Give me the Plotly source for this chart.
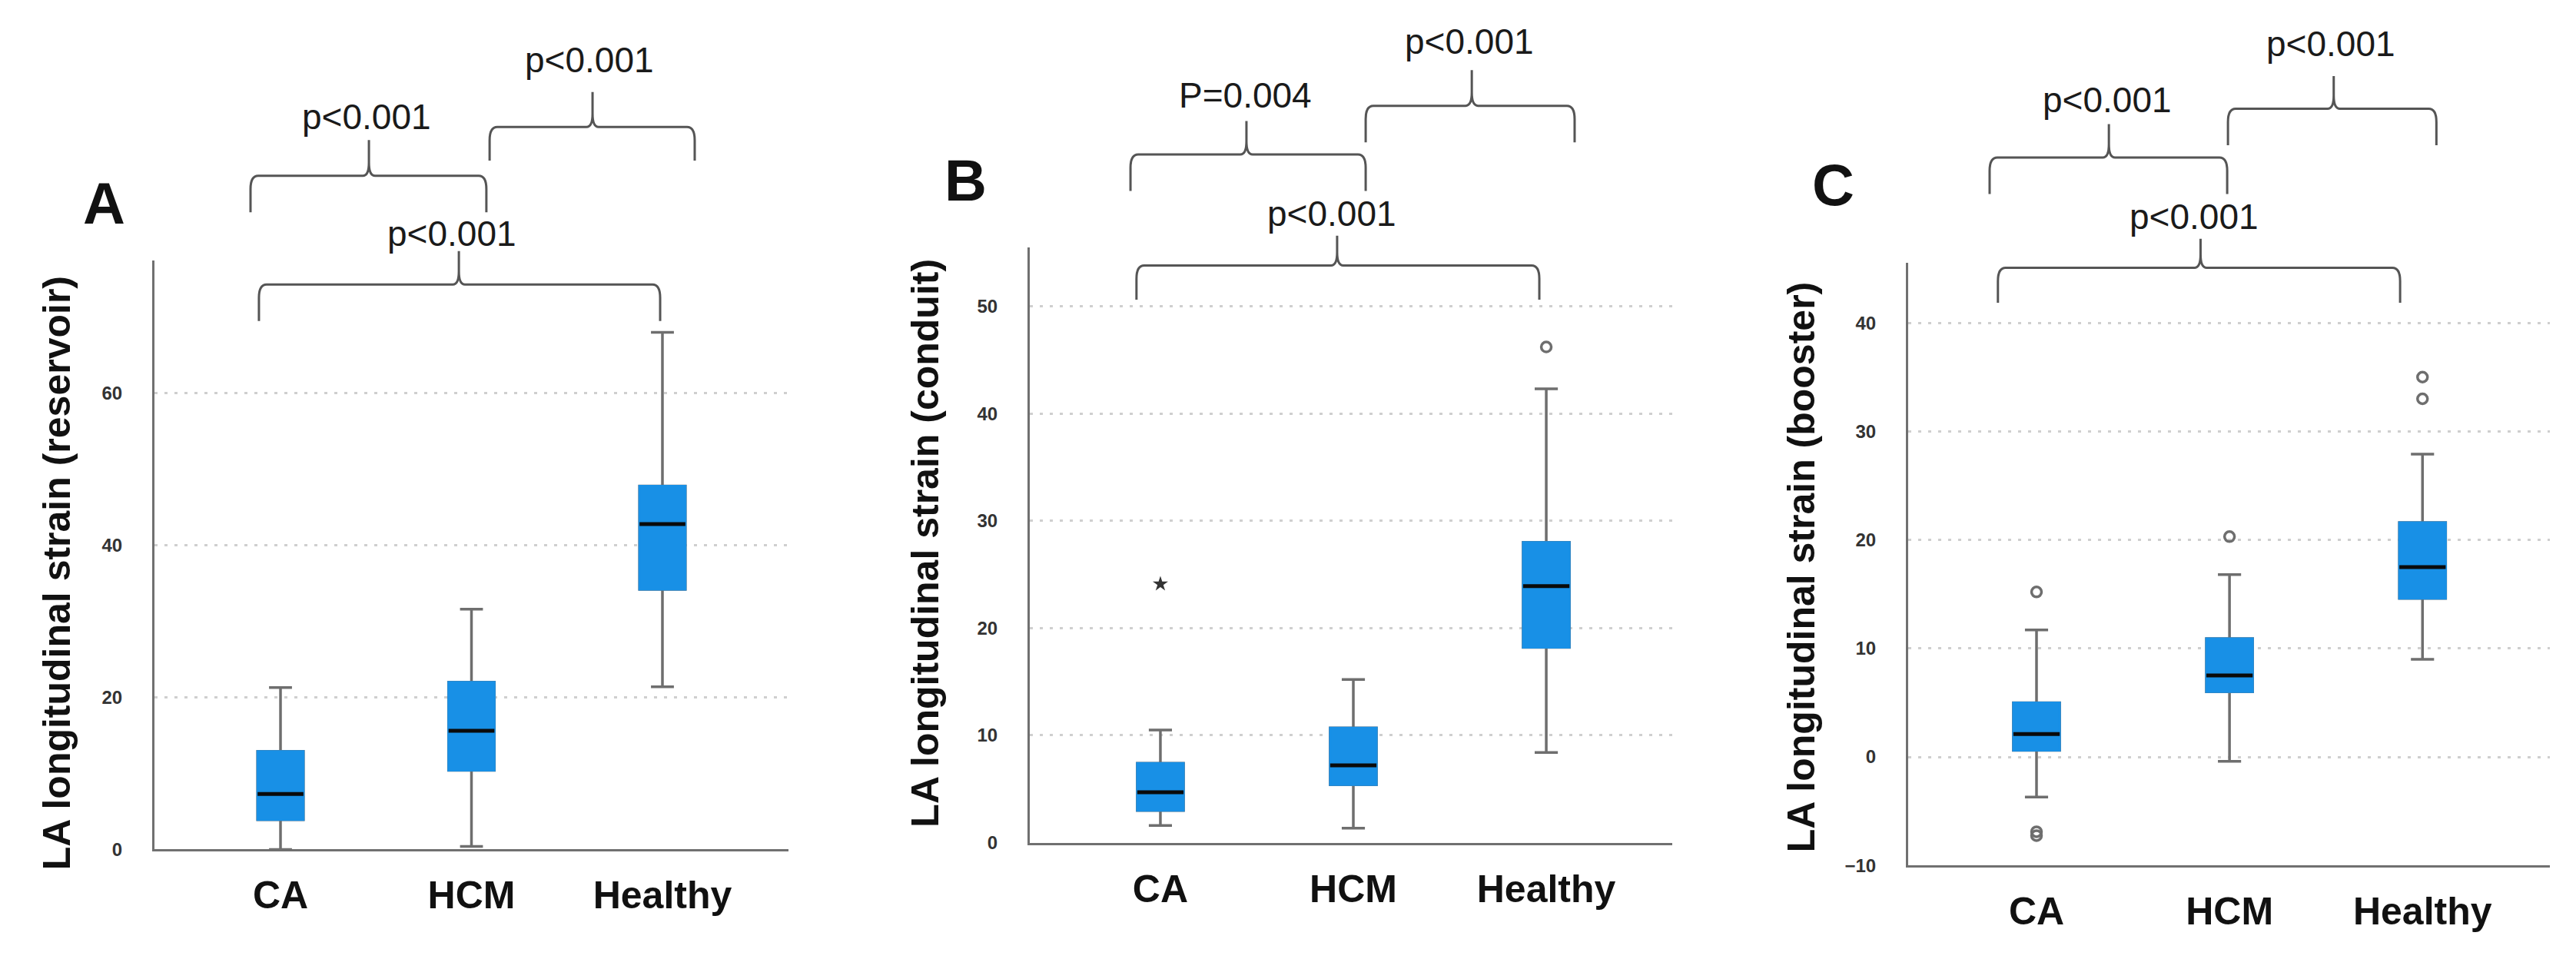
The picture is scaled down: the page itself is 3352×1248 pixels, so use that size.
import plotly.graph_objects as go

W, H = 3352, 1248

categories = ["CA", "HCM", "Healthy"]

# Panel A - LA longitudinal strain (reservoir)
a_lower = [0.0, 0.4, 21.4]
a_q1 = [3.9, 10.4, 34.2]
a_median = [7.3, 15.6, 42.8]
a_q3 = [12.9, 22.0, 47.8]
a_upper = [21.3, 31.6, 68.0]
a_out_cat = []
a_out_val = []
a_star_cat = []
a_star_val = []

# Panel B - LA longitudinal strain (conduit)
b_lower = [1.6, 1.35, 8.4]
b_q1 = [3.0, 5.4, 18.2]
b_median = [4.7, 7.2, 23.9]
b_q3 = [7.4, 10.7, 28.0]
b_upper = [10.5, 15.2, 42.3]
b_out_cat = ["Healthy"]
b_out_val = [46.2]
b_star_cat = ["CA"]
b_star_val = [24.1]

# Panel C - LA longitudinal strain (booster)
c_lower = [-3.7, -0.4, 9.0]
c_q1 = [0.6, 6.0, 14.6]
c_median = [2.1, 7.5, 17.5]
c_q3 = [5.0, 10.9, 21.6]
c_upper = [11.7, 16.8, 27.9]
c_out_cat = ["CA", "CA", "CA", "HCM", "Healthy", "Healthy"]
c_out_val = [15.2, -6.9, -7.25, 20.3, 35.0, 33.0]
c_star_cat = []
c_star_val = []

titles = ["LA longitudinal strain (reservoir)",
          "LA longitudinal strain (conduit)",
          "LA longitudinal strain (booster)"]
letters = ["A", "B", "C"]

# p-value labels: (left group, right group, text)
a_pvals = ["p<0.001", "p<0.001", "p<0.001"]
b_pvals = ["P=0.004", "p<0.001", "p<0.001"]
c_pvals = ["p<0.001", "p<0.001", "p<0.001"]

BLUE = "#1890E6"
GRAY = "#6e6e6e"
FONT = "Arial, Liberation Sans, sans-serif"

panels = [
    dict(stats=(a_lower, a_q1, a_median, a_q3, a_upper), out=(a_out_cat, a_out_val),
         star=(a_star_cat, a_star_val), pvals=a_pvals,
         xpx=(193, 1018), ypx=(334, 1109), xr=(-0.66, 2.66), yr=(0, 77.5), dtick=20,
         letter=(127, 259), ytitle=(66, 746),
         braces=[(-0.157, 1.078, 0.463, 271, 223, 176, 0.451, 146),
                 (1.095, 2.169, 1.634, 203, 159, 113, 1.618, 71),
                 (-0.113, 1.988, 0.934, 414, 366, 322, 0.897, 299)]),
    dict(stats=(b_lower, b_q1, b_median, b_q3, b_upper), out=(b_out_cat, b_out_val),
         star=(b_star_cat, b_star_val), pvals=b_pvals,
         xpx=(1332, 2168), ypx=(317, 1100), xr=(-0.677, 2.653), yr=(0, 55.5), dtick=10,
         letter=(1248, 229), ytitle=(1196, 706),
         braces=[(-0.155, 1.064, 0.446, 243, 195, 151, 0.442, 117),
                 (1.064, 2.147, 1.614, 179, 131, 84, 1.600, 46),
                 (-0.124, 1.964, 0.916, 386, 341, 302, 0.888, 273)]),
    dict(stats=(c_lower, c_q1, c_median, c_q3, c_upper), out=(c_out_cat, c_out_val),
         star=(c_star_cat, c_star_val), pvals=c_pvals,
         xpx=(2475, 3310), ypx=(338, 1130), xr=(-0.665, 2.66), yr=(-10, 45.5), dtick=10,
         letter=(2377, 235), ytitle=(2336, 738),
         braces=[(-0.243, 0.988, 0.375, 247, 199, 155, 0.367, 123),
                 (0.992, 2.072, 1.540, 183, 135, 92, 1.526, 50),
                 (-0.200, 1.884, 0.850, 390, 344, 306, 0.817, 277)]),
]

fig = go.Figure()
xpos = list(range(len(categories)))


def py(px):
    return 1 - px / H


def brace_path(x0, x1, xm, yb, yh, yt, rx=0.04, ry=0.014, rmx=0.032, rmy=0.014):
    yb, yh, yt = py(yb), py(yh), py(yt)
    return (f"M {x0},{yb} L {x0},{yh - ry} Q {x0},{yh} {x0 + rx},{yh} "
            f"L {xm - rmx},{yh} Q {xm},{yh} {xm},{yh + rmy} L {xm},{yt} "
            f"M {xm},{yh + rmy} Q {xm},{yh} {xm + rmx},{yh} "
            f"L {x1 - rx},{yh} Q {x1},{yh} {x1},{yh - ry} L {x1},{yb}")


shapes = []
annotations = []
for i, p in enumerate(panels):
    sfx = "" if i == 0 else str(i + 1)
    xa, ya = "x" + sfx, "y" + sfx
    lo, q1, med, q3, hi = p["stats"]
    common = dict(x=xpos, xaxis=xa, yaxis=ya, width=0.24, showlegend=False,
                  hoverinfo="skip", boxpoints=False)
    # whiskers + box
    fig.add_trace(go.Box(q1=q1, median=med, q3=q3, lowerfence=lo, upperfence=hi,
                         fillcolor=BLUE, line=dict(color=GRAY, width=3.5),
                         whiskerwidth=0.5, **common))
    # cover the box outline in blue
    fig.add_trace(go.Box(q1=q1, median=med, q3=q3, lowerfence=q1, upperfence=q3,
                         fillcolor=BLUE, line=dict(color=BLUE, width=3),
                         whiskerwidth=0, **common))
    # median line
    fig.add_trace(go.Box(q1=med, median=med, q3=med, lowerfence=med, upperfence=med,
                         fillcolor="rgba(0,0,0,0)", line=dict(color="#0a0a0a", width=5),
                         whiskerwidth=0, **common))
    oc, ov = p["out"]
    if oc:
        fig.add_trace(go.Scatter(x=[categories.index(c) for c in oc], y=ov, mode="markers",
                                 xaxis=xa, yaxis=ya, showlegend=False, hoverinfo="skip",
                                 marker=dict(symbol="circle-open", size=13, color=GRAY,
                                             line=dict(width=3.5, color=GRAY))))
    sc, sv = p["star"]
    if sc:
        fig.add_trace(go.Scatter(x=[categories.index(c) for c in sc], y=sv, mode="markers",
                                 xaxis=xa, yaxis=ya, showlegend=False, hoverinfo="skip",
                                 marker=dict(symbol="star", size=15, color="#333333")))

    x0, x1 = p["xpx"]
    ytop, ybot = p["ypx"]
    fig.update_layout(**{
        "xaxis" + sfx: dict(domain=[x0 / W, x1 / W], range=list(p["xr"]), anchor=ya,
                            tickvals=xpos, ticktext=[f"<b>{c}</b>" for c in categories],
                            tickfont=dict(size=50, color="#111111", family=FONT),
                            showline=True, linecolor="#707070", linewidth=3,
                            showgrid=False, zeroline=False, ticks="",
                            ticklabelstandoff=14, fixedrange=True),
        "yaxis" + sfx: dict(domain=[py(ybot), py(ytop)], range=list(p["yr"]), anchor=xa,
                            dtick=p["dtick"], tick0=0,
                            tickfont=dict(size=24, color="#333333", family=FONT, weight="bold"),
                            showline=True, linecolor="#707070", linewidth=3,
                            showgrid=True, gridcolor="#cfcfcf", gridwidth=3,
                            griddash="4px,9px", zeroline=False, ticks="",
                            ticklabelstandoff=34, fixedrange=True),
    })

    lx, ly = p["letter"]
    annotations.append(dict(x=lx / W, y=py(ly), xref="paper", yref="paper",
                            text=f"<b>{letters[i]}</b>", showarrow=False,
                            font=dict(size=76, color="#111111", family=FONT),
                            xanchor="center", yanchor="middle"))
    tx, ty = p["ytitle"]
    annotations.append(dict(x=tx / W, y=py(ty), xref="paper", yref="paper",
                            text=f"<b>{titles[i]}</b>", showarrow=False, textangle=-90,
                            font=dict(size=50, color="#111111", family=FONT),
                            xanchor="center", yanchor="middle"))
    for (bx0, bx1, bxm, yb, yh, yt, txx, tyy), label in zip(p["braces"], p["pvals"]):
        shapes.append(dict(type="path", xref=xa, yref="paper",
                           path=brace_path(bx0, bx1, bxm, yb, yh, yt),
                           line=dict(color="#555555", width=3)))
        annotations.append(dict(x=txx, y=py(tyy), xref=xa, yref="paper", text=label,
                                showarrow=False, xanchor="center", yanchor="middle",
                                font=dict(size=46, color="#1a1a1a", family=FONT)))

fig.update_layout(width=W, height=H, autosize=False,
                  margin=dict(l=0, r=0, t=0, b=0),
                  paper_bgcolor="white", plot_bgcolor="white",
                  boxmode="overlay", shapes=shapes, annotations=annotations)

fig.write_html("out.html")
